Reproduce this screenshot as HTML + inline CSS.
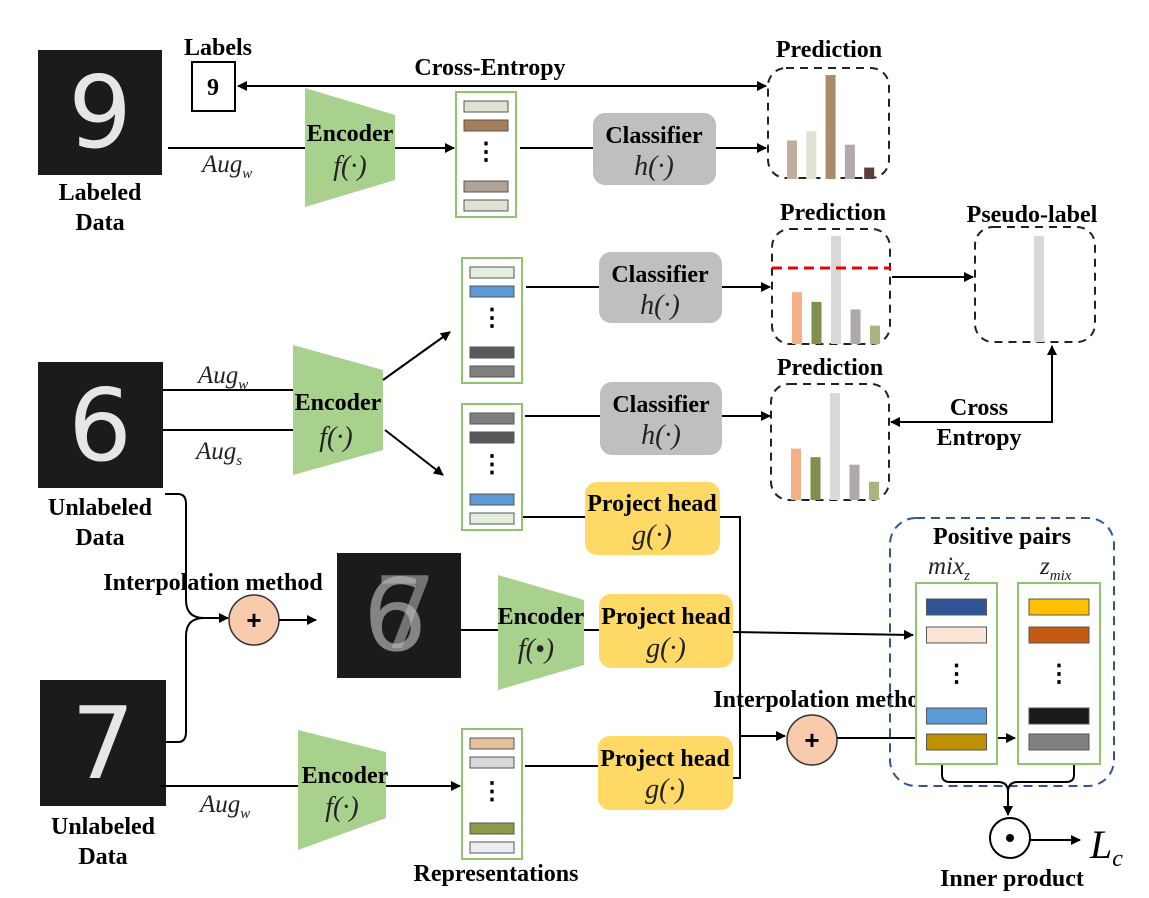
<!DOCTYPE html>
<html><head><meta charset="utf-8"><style>
html,body{margin:0;padding:0;background:#fff}
svg{display:block}
.b{font-family:"Liberation Serif",serif;font-weight:bold;font-size:24px;fill:#000}
.i{font-family:"Liberation Serif",serif;font-style:italic;font-size:25px;fill:#222}
.f{font-family:"Liberation Serif",serif;font-style:italic;font-size:28px;fill:#222}
.enc{fill:#a9d18e}
.cls{fill:#bfbfbf}
.ph{fill:#ffd966}
.ln{stroke:#000;stroke-width:2;fill:none}
.pd{fill:none;stroke:#222;stroke-width:2;stroke-dasharray:8 6}
.col{fill:#fff;stroke:#8fc36f;stroke-width:2}
.digit{font-family:"DejaVu Sans",sans-serif;font-size:100px;fill:#e6e6e6}
</style></head><body>
<svg id="svg" width="1149" height="898" viewBox="0 0 1149 898" xmlns="http://www.w3.org/2000/svg">
<defs>
<marker id="ar" markerWidth="10" markerHeight="10" refX="9" refY="5" orient="auto" markerUnits="userSpaceOnUse"><path d="M0,0 L10,5 L0,10 z" fill="#000"/></marker>
<marker id="arS" markerWidth="10" markerHeight="10" refX="1" refY="5" orient="auto" markerUnits="userSpaceOnUse"><path d="M10,0 L0,5 L10,10 z" fill="#000"/></marker>
</defs>

<!-- images -->
<g><rect x="38" y="50" width="124" height="125" fill="#1b1b1b"/><text class="digit" x="100" y="147" text-anchor="middle">9</text></g>
<g><rect x="38" y="362" width="125" height="126" fill="#1b1b1b"/><text class="digit" x="100" y="460" text-anchor="middle">6</text></g>
<g><rect x="337" y="553" width="124" height="125" fill="#1b1b1b"/><text class="digit" x="395" y="650" text-anchor="middle" fill-opacity="0.6" style="fill:#ccc">6</text><text class="digit" x="405" y="648" text-anchor="middle" style="fill:#bbb" fill-opacity="0.55">7</text></g>
<g><rect x="40" y="680" width="126" height="126" fill="#1b1b1b"/><text class="digit" x="103" y="778" text-anchor="middle">7</text></g>

<text class="b" x="100" y="200" text-anchor="middle">Labeled</text>
<text class="b" x="100" y="230" text-anchor="middle">Data</text>
<text class="b" x="100" y="515" text-anchor="middle">Unlabeled</text>
<text class="b" x="100" y="545" text-anchor="middle">Data</text>
<text class="b" x="103" y="834" text-anchor="middle">Unlabeled</text>
<text class="b" x="103" y="864" text-anchor="middle">Data</text>

<!-- labels box -->
<text class="b" x="218" y="55" text-anchor="middle">Labels</text>
<rect x="192" y="62" width="43" height="49" fill="#fff" stroke="#000" stroke-width="2"/>
<text class="b" x="213" y="95" text-anchor="middle">9</text>
<line class="ln" x1="238" y1="86" x2="766" y2="86" marker-start="url(#arS)" marker-end="url(#ar)"/>
<text class="b" x="490" y="75" text-anchor="middle">Cross-Entropy</text>

<!-- row 1 -->
<line class="ln" x1="168" y1="148" x2="305" y2="148"/>
<text class="i" x="202" y="172">Aug<tspan font-size="15" dy="6">w</tspan></text>
<polygon class="enc" points="305,88 395,115 395,180 305,207"/>
<text class="b" x="350" y="141" text-anchor="middle">Encoder</text>
<text class="f" x="350" y="175" text-anchor="middle">f(·)</text>
<line class="ln" x1="395" y1="148" x2="454" y2="148" marker-end="url(#ar)"/>
<line class="ln" x1="520" y1="148" x2="593" y2="148"/>
<rect class="cls" x="593" y="113" width="123" height="72" rx="12"/>
<text class="b" x="654" y="143" text-anchor="middle">Classifier</text>
<text class="f" x="654" y="175" text-anchor="middle">h(·)</text>
<line class="ln" x1="716" y1="148" x2="766" y2="148" marker-end="url(#ar)"/>

<!-- row 2 -->
<line class="ln" x1="163" y1="390" x2="293" y2="390"/>
<line class="ln" x1="163" y1="430" x2="293" y2="430"/>
<text class="i" x="198" y="383">Aug<tspan font-size="15" dy="6">w</tspan></text>
<text class="i" x="196" y="459">Aug<tspan font-size="15" dy="6">s</tspan></text>
<polygon class="enc" points="293,345 383,370 383,450 293,475"/>
<text class="b" x="338" y="410" text-anchor="middle">Encoder</text>
<text class="f" x="336" y="446" text-anchor="middle">f(·)</text>
<line class="ln" x1="383" y1="380" x2="450" y2="332" marker-end="url(#ar)"/>
<line class="ln" x1="385" y1="430" x2="443" y2="475" marker-end="url(#ar)"/>
<line class="ln" x1="526" y1="287" x2="599" y2="287"/>
<rect class="cls" x="599" y="252" width="123" height="71" rx="12"/>
<text class="b" x="660" y="282" text-anchor="middle">Classifier</text>
<text class="f" x="660" y="314" text-anchor="middle">h(·)</text>
<line class="ln" x1="722" y1="287" x2="770" y2="287" marker-end="url(#ar)"/>
<line class="ln" x1="525" y1="416" x2="600" y2="416"/>
<rect class="cls" x="600" y="382" width="122" height="73" rx="12"/>
<text class="b" x="661" y="412" text-anchor="middle">Classifier</text>
<text class="f" x="661" y="444" text-anchor="middle">h(·)</text>
<line class="ln" x1="722" y1="416" x2="770" y2="416" marker-end="url(#ar)"/>

<!-- pseudo-label arrows -->
<line class="ln" x1="892" y1="277" x2="973" y2="277" marker-end="url(#ar)"/>
<polyline class="ln" points="1052,346 1052,422 891,422" marker-start="url(#arS)" marker-end="url(#ar)"/>
<text class="b" x="979" y="415" text-anchor="middle">Cross</text>
<text class="b" x="979" y="445" text-anchor="middle">Entropy</text>

<!-- prediction boxes -->
<text class="b" x="829" y="57" text-anchor="middle" font-size="26">Prediction</text>
<rect class="pd" x="768" y="68" width="121" height="110" rx="18"/>
<text class="b" x="833" y="220" text-anchor="middle" font-size="26">Prediction</text>
<rect class="pd" x="772" y="229" width="118" height="115" rx="18"/>
<text class="b" x="830" y="375" text-anchor="middle" font-size="26">Prediction</text>
<rect class="pd" x="771" y="384" width="118" height="116" rx="18"/>
<text class="b" x="1032" y="222" text-anchor="middle" font-size="27">Pseudo-label</text>
<rect class="pd" x="975" y="227" width="120" height="115" rx="18"/>
<g id="bars"></g>
<line x1="772" y1="268" x2="891" y2="268" stroke="#e00" stroke-width="3" stroke-dasharray="10 6"/>

<!-- project heads -->
<line class="ln" x1="522" y1="517" x2="585" y2="517"/>
<rect class="ph" x="585" y="482" width="135" height="73" rx="12"/>
<text class="b" x="652" y="511" text-anchor="middle" font-size="23">Project head</text>
<text class="f" x="652" y="544" text-anchor="middle">g(·)</text>
<polyline class="ln" points="720,517 740,517 740,778 733,778"/>
<line class="ln" x1="461" y1="630" x2="498" y2="630"/>
<polygon class="enc" points="498,575 584,600 584,665 498,690"/>
<text class="b" x="541" y="624" text-anchor="middle">Encoder</text>
<text class="f" x="536" y="658" text-anchor="middle">f(•)</text>
<line class="ln" x1="584" y1="630" x2="599" y2="630"/>
<rect class="ph" x="599" y="594" width="134" height="74" rx="12"/>
<text class="b" x="666" y="624" text-anchor="middle" font-size="23">Project head</text>
<text class="f" x="666" y="657" text-anchor="middle">g(·)</text>
<line class="ln" x1="733" y1="632" x2="913" y2="635" marker-end="url(#ar)"/>
<rect class="ph" x="598" y="736" width="135" height="74" rx="12"/>
<text class="b" x="665" y="766" text-anchor="middle" font-size="23">Project head</text>
<text class="f" x="665" y="798" text-anchor="middle">g(·)</text>
<line class="ln" x1="525" y1="766" x2="598" y2="766"/>
<line class="ln" x1="740" y1="736" x2="785" y2="736" marker-end="url(#ar)"/>
<text class="b" x="823" y="707" text-anchor="middle">Interpolation method</text>
<circle cx="812" cy="740" r="25" fill="#f8cbad" stroke="#333" stroke-width="1.5"/>
<text x="812" y="749" text-anchor="middle" font-family="Liberation Sans,sans-serif" font-weight="bold" font-size="26">+</text>
<line class="ln" x1="837" y1="738" x2="1015" y2="738" marker-end="url(#ar)"/>

<!-- row 4 -->
<line class="ln" x1="160" y1="786" x2="298" y2="786"/>
<text class="i" x="200" y="812">Aug<tspan font-size="15" dy="6">w</tspan></text>
<polygon class="enc" points="298,730 386,752 386,818 298,850"/>
<text class="b" x="345" y="783" text-anchor="middle">Encoder</text>
<text class="f" x="342" y="816" text-anchor="middle">f(·)</text>
<line class="ln" x1="386" y1="786" x2="460" y2="786" marker-end="url(#ar)"/>
<text class="b" x="496" y="881" text-anchor="middle">Representations</text>

<!-- interpolation 1 -->
<text class="b" x="213" y="590" text-anchor="middle">Interpolation method</text>
<path class="ln" d="M165,494 H178 Q186,494 186,504 V600 Q186,618 204,618 H228" marker-end="url(#ar)"/>
<path class="ln" d="M166,742 H178 Q186,742 186,732 V636 Q186,618 204,618"/>
<circle cx="254" cy="620" r="25" fill="#f8cbad" stroke="#333" stroke-width="1.5"/>
<text x="254" y="629" text-anchor="middle" font-family="Liberation Sans,sans-serif" font-weight="bold" font-size="26">+</text>
<line class="ln" x1="279" y1="620" x2="316" y2="620" marker-end="url(#ar)"/>

<!-- positive pairs -->
<rect x="890" y="518" width="224" height="268" rx="26" fill="none" stroke="#2f5597" stroke-width="2" stroke-dasharray="9 6"/>
<text class="b" x="1002" y="544" text-anchor="middle">Positive pairs</text>
<text class="i" x="928" y="574" font-size="27">mix<tspan font-size="15" dy="6">z</tspan></text>
<text class="i" x="1040" y="574" font-size="27">z<tspan font-size="15" dy="6">mix</tspan></text>
<g id="cols"></g>
<path class="ln" d="M942,765 V775 Q942,782 950,782 H998 Q1008,782 1008,792 Q1008,782 1018,782 H1066 Q1074,782 1074,775 V765"/>
<line class="ln" x1="1008" y1="790" x2="1008" y2="815" marker-end="url(#ar)"/>
<circle cx="1010" cy="838" r="20" fill="#fff" stroke="#000" stroke-width="2"/>
<circle cx="1010" cy="838" r="4" fill="#000"/>
<line class="ln" x1="1030" y1="840" x2="1080" y2="840" marker-end="url(#ar)"/>
<text x="1090" y="858" font-family="Liberation Serif,serif" font-style="italic" font-size="40">L<tspan font-size="24" dy="8">c</tspan></text>
<text class="b" x="1012" y="886" text-anchor="middle">Inner product</text>
</svg>
<script>
// prediction values (fraction of max height)
const pred1Values = [0.37, 0.46, 1.0, 0.33, 0.11];
const pred1Colors = ["#c0ae9c", "#e0e2d2", "#a88b6a", "#b1aaa8", "#5a3e3c"];
const pred2Values = [0.48, 0.39, 1.0, 0.32, 0.17];
const pred3Values = [0.48, 0.40, 1.0, 0.33, 0.17];
const pred23Colors = ["#f4b183", "#7f8f4c", "#d9d9d9", "#aeaaaa", "#a9b57f"];
const pseudoValues = [0, 0, 1.0, 0, 0];
const NS = "http://www.w3.org/2000/svg";
const barsG = document.getElementById("bars");
function drawBars(vals, colors, x0, step, base, maxH, w, name) {
  vals.forEach((v, k) => {
    if (v <= 0) return;
    const r = document.createElementNS(NS, "rect");
    const h = v * maxH;
    r.setAttribute("x", x0 + k * step);
    r.setAttribute("y", base - h);
    r.setAttribute("width", w);
    r.setAttribute("height", h);
    r.setAttribute("fill", colors[k]);
    
    
    barsG.appendChild(r);
  });
}
drawBars(pred1Values, pred1Colors, 787, 19.3, 179, 104, 10, "prediction-1");
drawBars(pred2Values, pred23Colors, 792, 19.5, 344, 108, 10, "prediction-2");
drawBars(pred3Values, pred23Colors, 791, 19.5, 500, 107, 10, "prediction-3");
drawBars(pseudoValues, ["#d9d9d9","#d9d9d9","#d9d9d9","#d9d9d9","#d9d9d9"], 995, 19.5, 342, 106, 10, "pseudo-label");

// representation columns
const colSpecs = [
  {x:456,y:92,w:60,h:125,c:["#dfe2d2","#a87d5a","#b0a396","#dfe2d2"],name:"representation-1",bw:44,bh:11},
  {x:462,y:258,w:60,h:125,c:["#e2efda","#5b9bd5","#595959","#7f7f7f"],name:"representation-2",bw:44,bh:11},
  {x:462,y:404,w:60,h:126,c:["#7f7f7f","#595959","#5b9bd5","#e2efda"],name:"representation-3",bw:44,bh:11},
  {x:462,y:729,w:60,h:130,c:["#e6bf9c","#d9d9d9","#8a9a48","#eceef2"],name:"representation-4",bw:44,bh:11},
  {x:916,y:583,w:81,h:181,c:["#2f5597","#fbe5d6","#5b9bd5","#bf9000"],name:"mix-z-column",bw:60,bh:16},
  {x:1018,y:583,w:82,h:181,c:["#ffc000","#c55a11","#1a1a1a","#808080"],name:"z-mix-column",bw:60,bh:16}
];
const colsG = document.getElementById("cols");
const svg = document.getElementById("svg");
colSpecs.forEach(s => {
  const g = document.createElementNS(NS, "g");
  
  
  const r = document.createElementNS(NS, "rect");
  r.setAttribute("x", s.x); r.setAttribute("y", s.y); r.setAttribute("width", s.w); r.setAttribute("height", s.h);
  r.setAttribute("class", "col");
  g.appendChild(r);
  const big = s.bh > 12;
  const ys = big ? [s.y+16, s.y+44, s.y+s.h-56, s.y+s.h-30] : [s.y+9, s.y+28, s.y+s.h-36, s.y+s.h-17];
  ys.forEach((yy, k) => {
    const b = document.createElementNS(NS, "rect");
    b.setAttribute("x", s.x + (s.w - s.bw)/2); b.setAttribute("y", yy);
    b.setAttribute("width", s.bw); b.setAttribute("height", s.bh);
    b.setAttribute("fill", s.c[k]); b.setAttribute("stroke", "#555"); b.setAttribute("stroke-width", "1");
    g.appendChild(b);
  });
  const t = document.createElementNS(NS, "text");
  t.setAttribute("x", s.x + s.w/2); t.setAttribute("y", s.y + s.h/2 + (big?8:5));
  t.setAttribute("text-anchor", "middle"); t.setAttribute("class", "b");
  t.setAttribute("font-size", big ? "22" : "14");
  t.textContent = "⋮";
  g.appendChild(t);
  (s.name.indexOf("mix") >= 0 ? colsG : svg).appendChild(g);
});
</script>
</body></html>
